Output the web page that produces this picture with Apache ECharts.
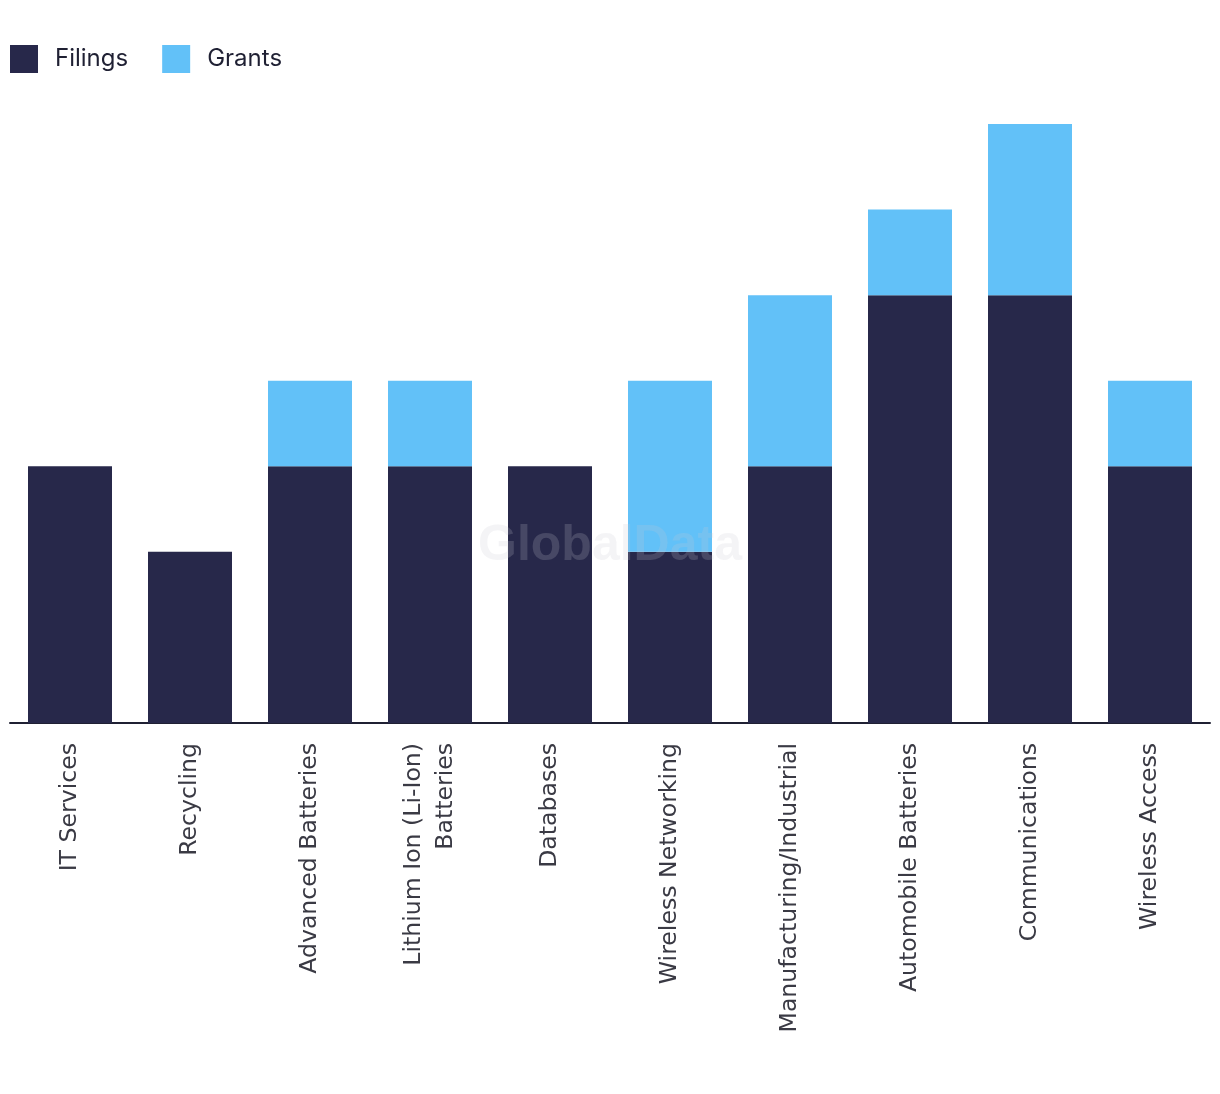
<!DOCTYPE html>
<html><head><meta charset="utf-8">
<script src="https://cdn.jsdelivr.net/npm/echarts@6/dist/echarts.min.js"></script>
<style>html,body{margin:0;padding:0;background:#fff}#c{width:1220px;height:1094px}</style>
</head><body><div id="c"></div>
<script>
const categories = ['IT Services','Recycling','Advanced Batteries','Lithium Ion (Li-Ion)\nBatteries','Databases','Wireless Networking','Manufacturing/Industrial','Automobile Batteries','Communications','Wireless Access'];
const filings = [3,2,3,3,3,2,3,5,5,3];
const grants = [0,0,1,1,0,2,2,1,2,1];

const chart = echarts.init(document.getElementById('c'));
chart.setOption({
  animation:false,
  backgroundColor:'#fff',
  legend:{
    left:10, top:45, padding:0, itemWidth:28, itemHeight:28, itemGap:34,
    icon:'rect',
    textStyle:{fontFamily:'Inter', fontSize:24, color:'#1f2033', padding:[0,0,0,12]},
    data:['Filings','Grants']
  },
  grid:{left:10, right:10, top:124, bottom:371, containLabel:false},
  xAxis:{
    type:'category', data:categories,
    axisLine:{lineStyle:{color:'#1f2033', width:2}},
    axisTick:{show:false},
    axisLabel:{rotate:90, interval:0, margin:20, fontFamily:'DejaVu Sans', fontSize:23.6, color:'#3a3a44', lineHeight:32}
  },
  yAxis:{type:'value', min:0, max:7, show:false, splitLine:{show:false}},
  series:[
    {name:'Filings', type:'bar', stack:'a', data:filings, itemStyle:{color:'#27284a'}, barCategoryGap:'30%'},
    {name:'Grants', type:'bar', stack:'a', data:grants, itemStyle:{color:'#62c1f8'}, barCategoryGap:'30%'}
  ],
  graphic:[{
    type:'text', left:'center', top:521, z:100,
    style:{text:'GlobalData', font:'bold 50px "Liberation Sans"', fill:'rgba(200,200,210,0.2)'}
  }]
});
</script></body></html>
